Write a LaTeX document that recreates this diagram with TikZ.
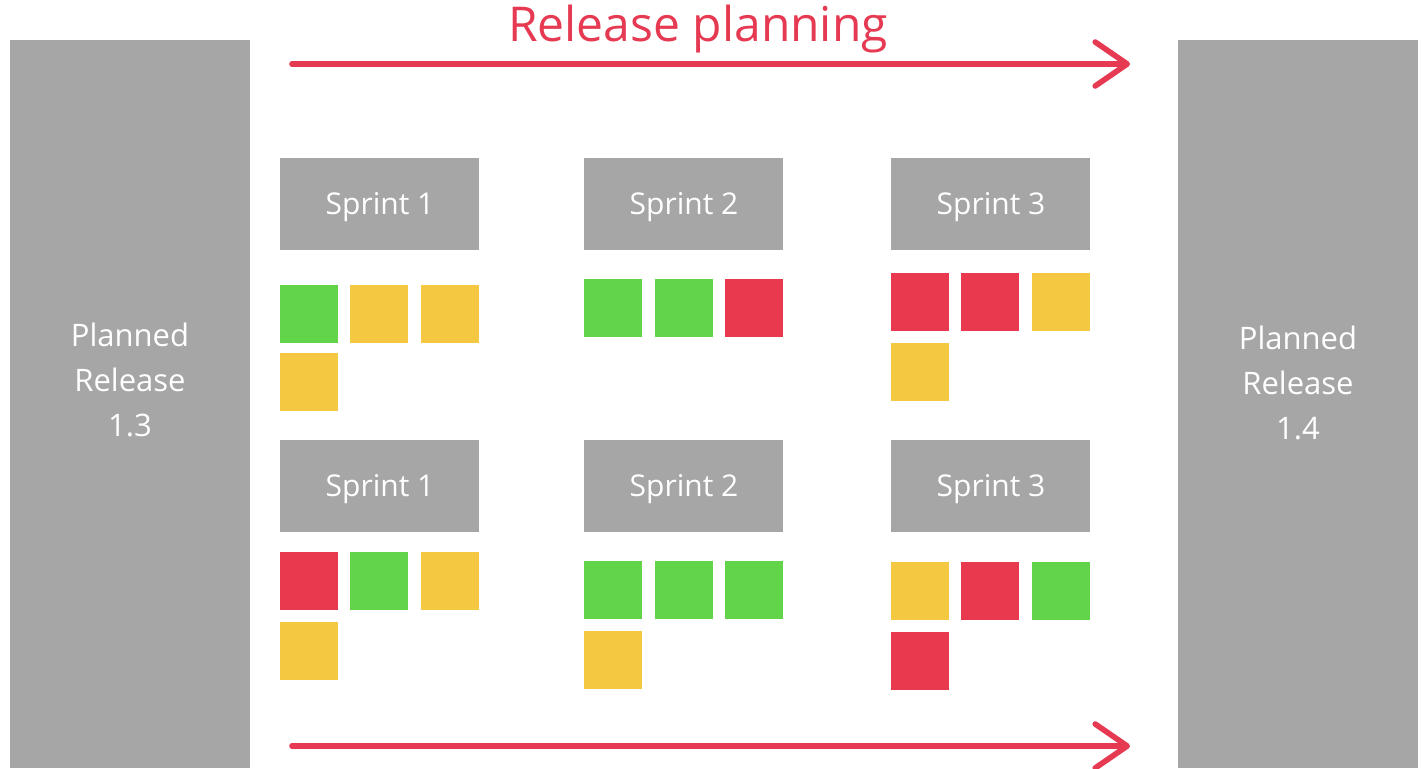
\documentclass[tikz,border=0pt]{standalone}
\usepackage{fontspec}
\setmainfont{Open Sans}
\usetikzlibrary{arrows.meta}
\definecolor{bargray}{HTML}{A6A6A6}
\definecolor{sgreen}{HTML}{62D44A}
\definecolor{syellow}{HTML}{F5C842}
\definecolor{sred}{HTML}{E8394F}
\definecolor{arrred}{HTML}{E63A52}
\tikzset{
  release/.style={fill=bargray, draw=none, minimum width=120pt, minimum height=364pt, inner sep=0pt, anchor=north west},
  reltext/.style={text=white, align=center, inner sep=0pt, font=\fontsize{15.5}{22.5}\selectfont},
  sprintbox/.style={fill=bargray, draw=none, minimum width=99.5pt, minimum height=46pt, inner sep=0pt, anchor=north west, text=white, font=\fontsize{15}{18}\selectfont},
  sprinttext/.style={text=white, inner sep=0pt, font=\fontsize{15}{18}\selectfont},
  sq/.style={draw=none, minimum size=29pt, inner sep=0pt, anchor=north west},
  G/.style={sq, fill=sgreen},
  Y/.style={sq, fill=syellow},
  R/.style={sq, fill=sred},
  flow/.style={draw=arrred, line width=2.8pt, line cap=round, -{Straight Barb[length=16pt, width=22pt, line cap=round, line join=round]}}
}
\begin{document}
\begin{tikzpicture}[x=0.5pt, y=-0.5pt]
\useasboundingbox (0,0) rectangle (1422,768);
\fill[white] (0,0) rectangle (1422,768);
% release bars
\node[release] (rel13) at (10,40) {};
\node[release] (rel14) at (1178,40) {};
\node[reltext] (rel13t) at (130,380) {Planned\\Release\\1.3};
\node[reltext] (rel14t) at (1298,383) {Planned\\Release\\1.4};
% title
\node[text=arrred, font=\fontsize{24}{28}\selectfont, inner sep=0pt] (title) at (698,29) {Release planning};
% arrows
\coordinate (a1s) at (292,64);
\coordinate (a1e) at (1130,64);
\coordinate (a2s) at (292,746);
\coordinate (a2e) at (1130,746);
\draw[flow] (a1s) -- (a1e);
\draw[flow] (a2s) -- (a2e);
% sprint boxes row 1
\node[sprintbox] (s11) at (280,158) {};
\node[sprintbox] (s12) at (584,158) {};
\node[sprintbox] (s13) at (891,158) {};
\node[sprinttext] at (380,207) {Sprint 1};
\node[sprinttext] at (684,207) {Sprint 2};
\node[sprinttext] at (991,207) {Sprint 3};
% sprint boxes row 2
\node[sprintbox] (s21) at (280,440) {};
\node[sprintbox] (s22) at (584,440) {};
\node[sprintbox] (s23) at (891,440) {};
\node[sprinttext] at (380,489) {Sprint 1};
\node[sprinttext] at (684,489) {Sprint 2};
\node[sprinttext] at (991,489) {Sprint 3};
% row 1 tasks
\node[G] (t111) at (280,285) {};
\node[Y] (t112) at (350,285) {};
\node[Y] (t113) at (421,285) {};
\node[Y] (t114) at (280,353) {};
\node[G] (t121) at (584,279) {};
\node[G] (t122) at (655,279) {};
\node[R] (t123) at (725,279) {};
\node[R] (t131) at (891,273) {};
\node[R] (t132) at (961,273) {};
\node[Y] (t133) at (1032,273) {};
\node[Y] (t134) at (891,343) {};
% row 2 tasks
\node[R] (t211) at (280,552) {};
\node[G] (t212) at (350,552) {};
\node[Y] (t213) at (421,552) {};
\node[Y] (t214) at (280,622) {};
\node[G] (t221) at (584,561) {};
\node[G] (t222) at (655,561) {};
\node[G] (t223) at (725,561) {};
\node[Y] (t224) at (584,631) {};
\node[Y] (t231) at (891,562) {};
\node[R] (t232) at (961,562) {};
\node[G] (t233) at (1032,562) {};
\node[R] (t234) at (891,632) {};
\end{tikzpicture}
\end{document}
